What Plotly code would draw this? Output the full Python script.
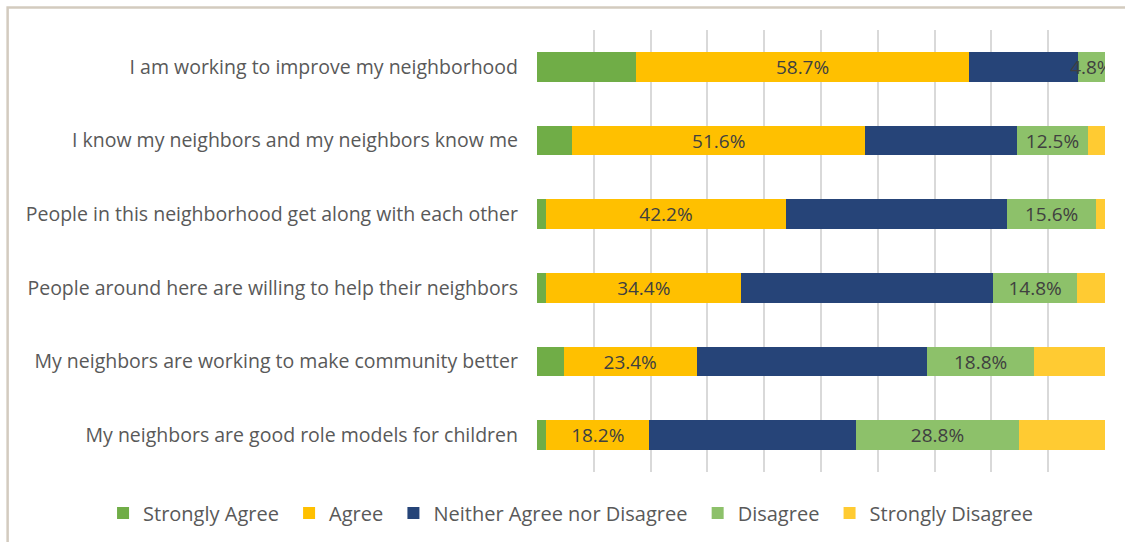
import plotly.graph_objects as go

statements = [
    "I am working to improve my neighborhood",
    "I know my neighbors and my neighbors know me",
    "People in this neighborhood get along with each other",
    "People around here are willing to help their neighbors",
    "My neighbors are working to make community better",
    "My neighbors are good role models for children",
]

strongly_agree = [17.4, 6.2, 1.6, 1.6, 4.7, 1.6]
agree = [58.7, 51.6, 42.2, 34.4, 23.4, 18.2]
neither = [19.1, 26.7, 39.0, 44.3, 40.6, 36.3]
disagree = [4.8, 12.5, 15.6, 14.8, 18.8, 28.8]
strongly_disagree = [0.0, 3.0, 1.6, 4.9, 12.5, 15.1]

series = [
    ("Strongly Agree", strongly_agree, "#70AD47", False),
    ("Agree", agree, "#FFC000", True),
    ("Neither Agree nor Disagree", neither, "#264478", False),
    ("Disagree", disagree, "#8DC16A", True),
    ("Strongly Disagree", strongly_disagree, "#FFCB32", False),
]

FONT = "Open Sans"
NBSP = "\u00a0"

fig = go.Figure()
for i, (name, vals, color, labelled) in enumerate(series):
    # a trailing non-breaking space widens the gap between legend entries
    legend_name = name + (NBSP if i < len(series) - 1 else "")
    fig.add_trace(go.Bar(
        name=legend_name,
        y=statements,
        x=vals,
        orientation="h",
        marker=dict(color=color, line=dict(width=0)),
        text=[f"{v:.1f}%" for v in vals] if labelled else None,
        textposition="inside" if labelled else "none",
        insidetextanchor="middle",
        textangle=0,
        constraintext="none",
        textfont=dict(family=FONT, size=19, color="#404040"),
        hovertemplate=name + ": %{x:.1f}%<extra></extra>",
    ))

fig.update_layout(
    barmode="stack",
    bargap=0.6,
    width=1125,
    height=542,
    margin=dict(l=537, r=20, t=30, b=70, autoexpand=False),
    paper_bgcolor="white",
    plot_bgcolor="white",
    font=dict(family=FONT, size=19, color="#595959"),
    xaxis=dict(
        range=[0, 100],
        dtick=10,
        showgrid=True,
        gridcolor="#D9D9D9",
        gridwidth=1.5,
        showticklabels=False,
        zeroline=False,
        showline=False,
        fixedrange=True,
    ),
    yaxis=dict(
        autorange="reversed",
        showgrid=False,
        showline=False,
        ticks="",
        ticklabelstandoff=18,
        tickfont=dict(family=FONT, size=19.5, color="#595959"),
    ),
    legend=dict(
        orientation="h",
        xref="paper",
        x=-0.764,
        xanchor="left",
        yref="paper",
        y=-0.093,
        yanchor="middle",
        font=dict(family=FONT, size=20, color="#595959"),
        itemwidth=30,
        traceorder="normal",
    ),
    shapes=[
        dict(
            type="rect",
            xref="paper",
            yref="paper",
            x0=-0.932,
            x1=1.2,
            y0=-0.3,
            y1=1.051,
            line=dict(color="#D3CBBF", width=2.5),
            layer="below",
        )
    ],
)

fig.write_html("out.html")
